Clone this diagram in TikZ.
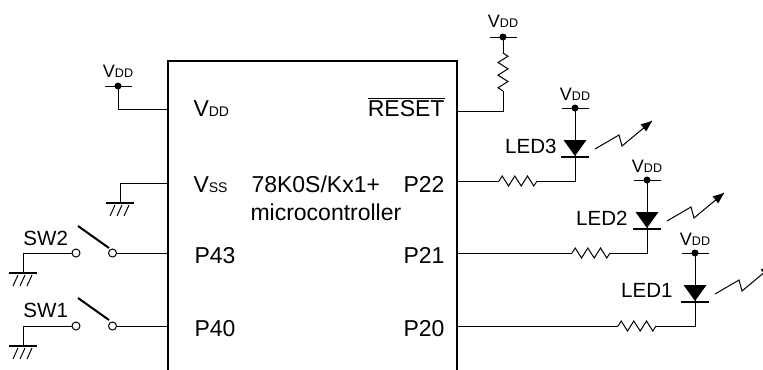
\documentclass[tikz,border=0pt]{standalone}
\usepackage{fontspec}
\setmainfont{Liberation Sans}

\newcommand{\pinfont}{\fontsize{17.25}{20.7}\selectfont}
\newcommand{\pinsub}[1]{{\fontsize{10.5}{12.6}\selectfont #1}}
\newcommand{\tagfont}{\fontsize{15.4}{18.5}\selectfont}
\newcommand{\supplyfont}{\fontsize{13.5}{16.2}\selectfont}
\newcommand{\supplysub}[1]{{\fontsize{9.4}{11.3}\selectfont #1}}

% symbols, drawn at a shift (x,y) in picture units
\newcommand{\supplysym}[2]{\begin{scope}[shift={(#1,#2)}]
  \fill (0,0) circle (3.5); \draw (-13.5,0) -- (13.5,0);
\end{scope}}
\newcommand{\groundsym}[2]{\begin{scope}[shift={(#1,#2)}]
  \draw [line width=1.5pt] (-14,0) -- (14,0);
  \draw (-5,2) -- (-10,13) (2,2) -- (-3,13) (9,2) -- (4,13);
\end{scope}}
\newcommand{\resistorsym}[3]{\begin{scope}[shift={(#1,#2)}, rotate=#3]
  \draw (0,0) -- (3.2,-5) -- (9.5,5) -- (15.8,-5) -- (22.2,5) -- (28.5,-5) -- (34.8,5) -- (38,0);
\end{scope}}
\newcommand{\ledsym}[2]{\begin{scope}[shift={(#1,#2)}]
  \fill (-11.5,0) -- (11.5,0) -- (0,16) -- cycle;
  \draw [line width=1.5pt] (-14,17) -- (14,17);
  \draw (20,9) -- (44,-5) -- (47,6) -- (77,-19);
  \fill [shift={(77,-19)}, rotate=-38.66] (0,0) -- (-11,-4.5) -- (-11,4.5) -- cycle;
\end{scope}}

\tikzset{every picture/.style={line width=0.75pt}}
\tikzset{
  pin/.style={inner sep=0pt, font=\pinfont},
  tag/.style={inner sep=0pt, font=\tagfont},
  supplytext/.style={inner sep=0pt, font=\supplyfont, anchor=base},
  contact/.style={circle, draw, fill=white, inner sep=0pt, minimum size=6pt}
}

\begin{document}
\begin{tikzpicture}[x=0.75pt,y=0.75pt,yscale=-1,xscale=1]
\useasboundingbox (0,0) rectangle (763,369);

%Chip outline
\draw [line width=1.5pt] (168,375) -- (168,61) -- (457,61) -- (457,375) ;

%Pins
\coordinate (vddpin) at (168,109);
\coordinate (vsspin) at (168,183);
\coordinate (p43pin) at (168,253);
\coordinate (p40pin) at (168,326);
\coordinate (rstpin) at (457,111);
\coordinate (p22pin) at (457,181);
\coordinate (p21pin) at (457,253);
\coordinate (p20pin) at (457,326);

%Supply and ground on the left
\coordinate (vddL) at (118,86);
\supplysym{118}{86}
\draw (vddL) |- (vddpin) ;
\coordinate (gnd0) at (120,203);
\draw (vsspin) -| (gnd0) ;
\groundsym{120}{203}

%Switch SW2
\node [contact] (sw2a) at (76,253) {};
\node [contact] (sw2b) at (112.5,253) {};
\draw [line width=1.5pt] (78,226) -- (109,248) ;
\coordinate (gnd2) at (23,273);
\draw (sw2a) -| (gnd2) ;
\groundsym{23}{273}
\draw (sw2b) -- (p43pin) ;

%Switch SW1
\node [contact] (sw1a) at (76,326) {};
\node [contact] (sw1b) at (112.5,326) {};
\draw [line width=1.5pt] (78,298) -- (109,320) ;
\coordinate (gnd1) at (23,346);
\draw (sw1a) -| (gnd1) ;
\groundsym{23}{346}
\draw (sw1b) -- (p40pin) ;

%Reset pull-up
\coordinate (vddR) at (503,37);
\coordinate (rr1) at (503,53);
\coordinate (rr2) at (503,91);
\supplysym{503}{37}
\draw (vddR) -- (rr1) ;
\resistorsym{503}{53}{90}
\draw (rr2) |- (rstpin) ;

%LED3
\coordinate (vdd3) at (575,108);
\coordinate (k3) at (575,181);
\coordinate (r3a) at (537,181);
\coordinate (r3b) at (499,181);
\supplysym{575}{108}
\draw (vdd3) -- (k3) -- (r3a) ;
\ledsym{575}{140}
\resistorsym{499}{181}{0}
\draw (r3b) -- (p22pin) ;

%LED2
\coordinate (vdd2) at (647,180);
\coordinate (k2) at (647,253);
\coordinate (r2a) at (610,253);
\coordinate (r2b) at (572,253);
\supplysym{647}{180}
\draw (vdd2) -- (k2) -- (r2a) ;
\ledsym{647}{212}
\resistorsym{572}{253}{0}
\draw (r2b) -- (p21pin) ;

%LED1
\coordinate (vdd1) at (695,253);
\coordinate (k1) at (695,326);
\coordinate (r1a) at (656,326);
\coordinate (r1b) at (618,326);
\supplysym{695}{253}
\draw (vdd1) -- (k1) -- (r1a) ;
\ledsym{695}{285}
\resistorsym{618}{326}{0}
\draw (r1b) -- (p20pin) ;

% Text Node
\node [pin, anchor=base west] (vddtext) at (193,116) {V\pinsub{DD}};
% Text Node
\node [pin, anchor=base west] (vsstext) at (193,192) {V\pinsub{SS}};
% Text Node
\node [pin, anchor=base west] (p43text) at (194,263) {P43};
% Text Node
\node [pin, anchor=base west] (p40text) at (194,336) {P40};
% Text Node
\node [pin, anchor=base east] (rsttext) at (445,116) {$\overline{\mbox{RESET}}$};
% Text Node
\node [pin, anchor=base east] (p22text) at (445,192) {P22};
% Text Node
\node [pin, anchor=base east] (p21text) at (445,263) {P21};
% Text Node
\node [pin, anchor=base east] (p20text) at (445,336) {P20};
% Text Node
\node [pin, anchor=base west] (chiptext) at (251,192) {78K0S/Kx1+};
% Text Node
\node [pin, anchor=base west] (mcutext) at (250,220) {microcontroller};
% Text Node
\node [tag, anchor=base west] (sw2text) at (23,245) {SW2};
% Text Node
\node [tag, anchor=base west] (sw1text) at (23,317) {SW1};
% Text Node
\node [tag, anchor=base east] (led3text) at (557,153) {LED3};
% Text Node
\node [tag, anchor=base east] (led2text) at (628,225) {LED2};
% Text Node
\node [tag, anchor=base east] (led1text) at (673,297) {LED1};
% Text Node
\node [supplytext] (vddLtext) at (118,77) {V\supplysub{DD}};
% Text Node
\node [supplytext] (vddRtext) at (503,27) {V\supplysub{DD}};
% Text Node
\node [supplytext] (vdd3text) at (575,100) {V\supplysub{DD}};
% Text Node
\node [supplytext] (vdd2text) at (647,172) {V\supplysub{DD}};
% Text Node
\node [supplytext] (vdd1text) at (695,245) {V\supplysub{DD}};

\end{tikzpicture}
\end{document}
